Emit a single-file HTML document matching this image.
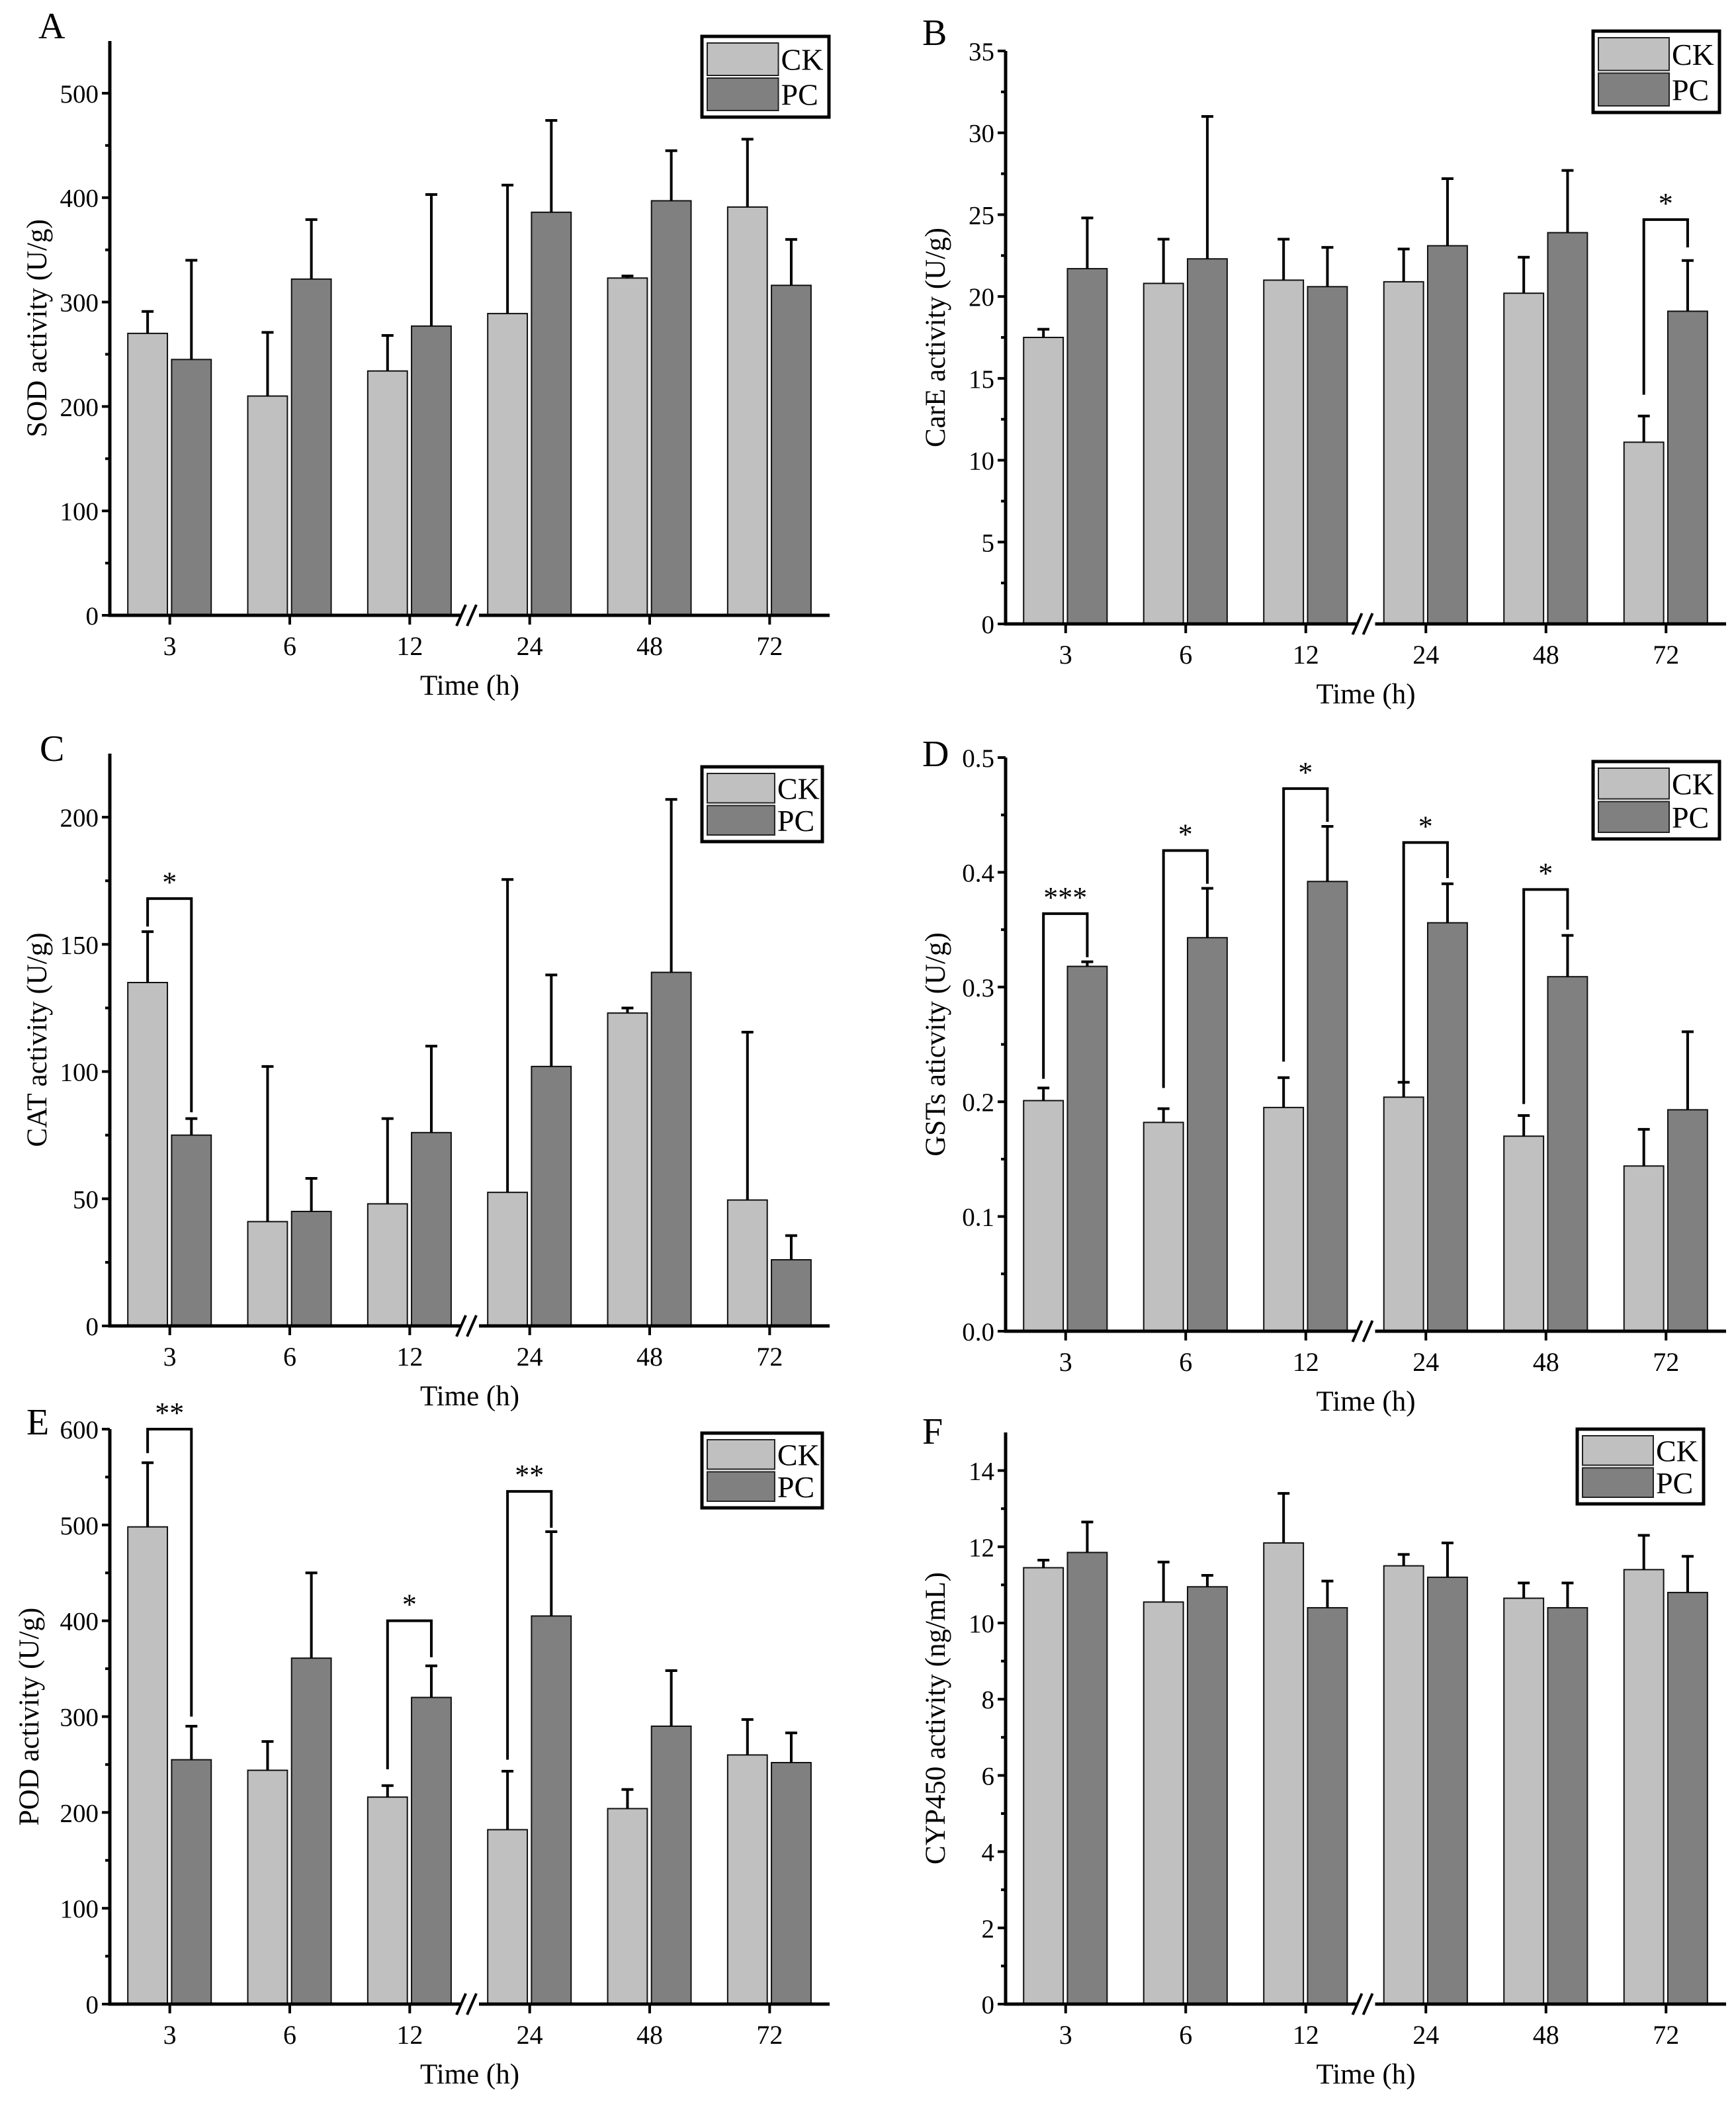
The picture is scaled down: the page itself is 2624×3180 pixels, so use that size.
<!DOCTYPE html>
<html><head><meta charset="utf-8">
<style>
html,body{margin:0;padding:0;background:#fff;}
svg{display:block;font-family:"Liberation Serif",serif;}
</style></head>
<body>
<svg width="2624" height="3180" viewBox="0 0 2624 3180" xmlns="http://www.w3.org/2000/svg"><g id="fig"></g></svg>
<script>
const categories = ["3","6","12","24","48","72"];
// Panel A SOD
const sodCK = [270,210,234,289,323,391];
const sodCKUp = [291,271,268,412,325,456];
const sodPC = [245,322,277,386,397,316];
const sodPCUp = [340,379,403,474,445,360];
// Panel B CarE
const careCK = [17.5,20.8,21.0,20.9,20.2,11.1];
const careCKUp = [18.0,23.5,23.5,22.9,22.4,12.7];
const carePC = [21.7,22.3,20.6,23.1,23.9,19.1];
const carePCUp = [24.8,31.0,23.0,27.2,27.7,22.2];
// Panel C CAT
const catCK = [135,41,48,52.5,123,49.5];
const catCKUp = [155,102,81.5,175.5,125,115.5];
const catPC = [75,45,76,102,139,26];
const catPCUp = [81.5,58,110,138,207,35.5];
// Panel D GSTs
const gstCK = [0.201,0.182,0.195,0.204,0.170,0.144];
const gstCKUp = [0.212,0.194,0.221,0.217,0.188,0.176];
const gstPC = [0.318,0.343,0.392,0.356,0.309,0.193];
const gstPCUp = [0.322,0.386,0.440,0.390,0.345,0.261];
// Panel E POD
const podCK = [498,244,216,182,204,260];
const podCKUp = [565,274,228,243,224,297];
const podPC = [255,361,320,405,290,252];
const podPCUp = [290,450,353,493,348,283];
// Panel F CYP450
const cypCK = [11.45,10.55,12.1,11.5,10.65,11.4];
const cypCKUp = [11.65,11.6,13.4,11.8,11.05,12.3];
const cypPC = [11.85,10.95,10.4,11.2,10.4,10.8];
const cypPCUp = [12.65,11.25,11.1,12.1,11.05,11.75];
// significance: [category index, bracket value, CK-side start, PC-side end, label]
const sigB = [[5,24.7,14.0,23.0,"*"]];
const sigC = [[0,168,157,84,"*"]];
const sigD = [[0,0.364,0.22,0.326,"***"],[1,0.419,0.212,0.390,"*"],[2,0.473,0.235,0.444,"*"],[3,0.426,0.218,0.395,"*"],[4,0.385,0.198,0.350,"*"]];
const sigE = [[0,600,575,300,"**"],[2,400,245,362,"*"],[3,535,255,497,"**"]];
const yTicksA = [0,100,200,300,400,500];
const yTicksB = [0,5,10,15,20,25,30,35];
const yTicksC = [0,50,100,150,200];
const yTicksD = [0,0.1,0.2,0.3,0.4,0.5];
const yTicksE = [0,100,200,300,400,500,600];
const yTicksF = [0,2,4,6,8,10,12,14];

const NS="http://www.w3.org/2000/svg";
const svg=document.getElementById('fig');
function mk(tag,attrs,parent){const e=document.createElementNS(NS,tag);for(const k in attrs)e.setAttribute(k,attrs[k]);(parent||svg).appendChild(e);return e;}

function panel(p){
  const g=mk('g',{});
  
  
  const y=v=>p.y0-(v/p.ymax)*(p.y0-p.ytop);
  const slot=(p.x1-p.x0)/categories.length;
  const cx=i=>p.x0+slot*(i+0.5);
  const L=mk('text',{x:p.lx,y:p.ly,'font-size':56},g);L.textContent=p.letter;
  
  
  const series=[[p.ck,p.ckUp,'#c0c0c0',-0.35,'ck'],[p.pc,p.pcUp,'#808080',0.015,'pc']];
  series.forEach(s=>{
    s[0].forEach((v,i)=>{
      const bx=cx(i)+s[3]*slot, bw=0.33*slot;
      const r=mk('rect',{x:bx,y:y(v),width:bw,height:p.y0-y(v),fill:s[2],stroke:'#111','stroke-width':2},g);
      
      
      const mx=bx+bw/2;
      const e=mk('path',{d:`M${mx},${y(v)}V${y(s[1][i])}M${mx-9},${y(s[1][i])}H${mx+9}`,stroke:'#000','stroke-width':4,fill:'none'},g);
      
      
    });
  });
  (p.sig||[]).forEach(s=>{
    const i=s[0];const a=cx(i)-0.185*slot,b=cx(i)+0.18*slot;
    const br=mk('path',{d:`M${a},${y(s[2])}V${y(s[1])}H${b}V${y(s[3])}`,stroke:'#000','stroke-width':4,fill:'none'},g);
    
    
    const t=mk('text',{x:(a+b)/2,y:y(s[1])-10,'font-size':44,'text-anchor':'middle'},g);t.textContent=s[4];
    
    
  });
  const ax=mk('path',{d:`M${p.x0},${p.ytop}V${p.y0}H${p.x1}`,stroke:'#000','stroke-width':5,fill:'none'},g);
  
  
  p.ticks.forEach(t=>{
    mk('line',{x1:p.x0-12,x2:p.x0,y1:y(t),y2:y(t),stroke:'#000','stroke-width':4},g);
    const m=(t+(p.ticks[1]-p.ticks[0])/2);if(m<p.ymax)mk('line',{x1:p.x0-7,x2:p.x0,y1:y(m),y2:y(m),stroke:'#000','stroke-width':4},g);
    const tl=mk('text',{x:p.x0-17,y:y(t)+14,'font-size':39,'text-anchor':'end'},g);
    tl.textContent=p.fmt?p.fmt(t):String(t);
    
    
  });
  categories.forEach((c,i)=>{
    mk('line',{x1:cx(i),x2:cx(i),y1:p.y0,y2:p.y0+14,stroke:'#000','stroke-width':4},g);
    const tl=mk('text',{x:cx(i),y:p.y0+60,'font-size':40,'text-anchor':'middle'},g);tl.textContent=c;
    
    
  });
  const bx=p.x0+slot*3;
  mk('rect',{x:bx-14,y:p.y0-6,width:28,height:12,fill:'#fff'},g);
  const brk=mk('path',{d:`M${bx-20},${p.y0+16}L${bx-6},${p.y0-16}M${bx-4},${p.y0+16}L${bx+10},${p.y0-16}`,stroke:'#000','stroke-width':4},g);
  
  
  const xt=mk('text',{x:(p.x0+p.x1)/2,y:p.y0+120,'font-size':43,'text-anchor':'middle'},g);xt.textContent='Time (h)';
  
  
  const yt=mk('text',{x:0,y:0,'font-size':43,'text-anchor':'middle',transform:`translate(${p.ytx},${(p.y0+p.ytop)/2}) rotate(-90)`},g);yt.textContent=p.ytitle;
  
  
  const lg=mk('g',{},g);
  
  
  const [lx,ly,lw,lh]=p.leg;
  mk('rect',{x:lx,y:ly,width:lw,height:lh,fill:'#fff',stroke:'#000','stroke-width':5},lg);
  const rh=(lh-16)/2;
  [['CK','#c0c0c0'],['PC','#808080']].forEach((e,k)=>{
    const r=mk('rect',{x:lx+8,y:ly+8+k*rh+2,width:lw*0.56,height:rh-4,fill:e[1],stroke:'#222','stroke-width':2},lg);
    
    
    const t=mk('text',{x:lx+lw*0.56+12,y:ly+8+k*rh+rh/2+16,'font-size':46},lg);t.textContent=e[0];
    
    
  });
}

panel({letter:'A',lx:58,ly:58,x0:166,x1:1254,y0:930,ytop:62,ymax:550,ticks:yTicksA,ck:sodCK,ckUp:sodCKUp,pc:sodPC,pcUp:sodPCUp,ytitle:'SOD activity (U/g)',ytx:70,leg:[1061,55,192,122]});
panel({letter:'B',lx:1394,ly:68,x0:1520,x1:2609,y0:943,ytop:77,ymax:35,ticks:yTicksB,ck:careCK,ckUp:careCKUp,pc:carePC,pcUp:carePCUp,sig:sigB,ytitle:'CarE activity (U/g)',ytx:1428,leg:[2408,47,191,123]});
panel({letter:'C',lx:60,ly:1150,x0:166,x1:1254,y0:2004,ytop:1139,ymax:225,ticks:yTicksC,ck:catCK,ckUp:catCKUp,pc:catPC,pcUp:catPCUp,sig:sigC,ytitle:'CAT activity (U/g)',ytx:70,leg:[1061,1159,182,113]});
panel({letter:'D',lx:1394,ly:1158,x0:1520,x1:2609,y0:2012,ytop:1145,ymax:0.5,ticks:yTicksD,ck:gstCK,ckUp:gstCKUp,pc:gstPC,pcUp:gstPCUp,sig:sigD,ytitle:'GSTs aticvity (U/g)',ytx:1428,fmt:v=>v.toFixed(1),leg:[2408,1151,191,117]});
panel({letter:'E',lx:40,ly:2168,x0:166,x1:1254,y0:3029,ytop:2160,ymax:600,ticks:yTicksE,ck:podCK,ckUp:podCKUp,pc:podPC,pcUp:podPCUp,sig:sigE,ytitle:'POD activity (U/g)',ytx:58,leg:[1061,2166,182,113]});
panel({letter:'F',lx:1394,ly:2182,x0:1520,x1:2609,y0:3029,ytop:2165,ymax:15,ticks:yTicksF,ck:cypCK,ckUp:cypCKUp,pc:cypPC,pcUp:cypPCUp,ytitle:'CYP450 activity (ng/mL)',ytx:1428,leg:[2384,2160,191,113]});
</script>
</body></html>
